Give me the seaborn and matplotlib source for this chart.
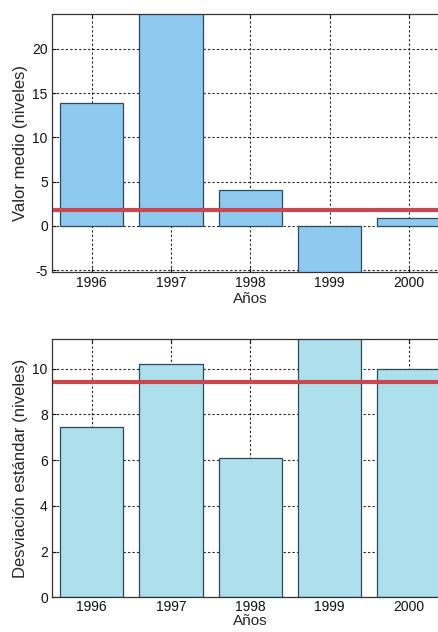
# Valor medio y desviación estándar por año
import pandas as pd
import matplotlib.pyplot as plt
import seaborn as sns

# ------------------------------------------
# Data
# ------------------------------------------
years = ["1996", "1997", "1998", "1999", "2000"]
mean_vals = [13.9, 25.0, 4.0, -6.0, 0.9]
std_vals = [7.47, 10.2, 6.1, 11.8, 9.98]
mean_ref = 1.8
std_ref = 9.4

df = pd.DataFrame({"Año": years, "Media": mean_vals, "Desv": std_vals})

sns.set_style("white")
plt.rcParams["font.family"] = ["Liberation Sans", "DejaVu Sans"]
plt.rcParams["axes.unicode_minus"] = False

fig = plt.figure(figsize=(4.39, 6.32), dpi=100)

# axes run past the right edge, as in the cropped original
ax1 = fig.add_axes([0.1185, 0.5696, 0.903, 0.408])
ax2 = fig.add_axes([0.1185, 0.055, 0.903, 0.4086])


def style_axes(ax):
    ax.set_axisbelow(True)
    ax.grid(True, linestyle=(0, (2, 2)), color="#222222", linewidth=0.8)
    for s in ax.spines.values():
        s.set_color("#333333")
        s.set_linewidth(0.9)
    ax.tick_params(direction="in", length=3, labelsize=10, colors="#111111",
                   top=True, right=True, left=True, bottom=True, pad=3)
    ax.set_xlim(-0.5, 4.5)


# ------------------------------------------
# 1. Valor medio
# ------------------------------------------
sns.barplot(data=df, x="Año", y="Media", ax=ax1, color="#8ec9f0",
            saturation=1, edgecolor="#2b4a5c", linewidth=0.9, width=0.8)
ax1.axhline(mean_ref, color="#c9474f", linewidth=3)
style_axes(ax1)
ax1.set_ylim(-5.2, 23.9)
ax1.set_yticks([-5, 0, 5, 10, 15, 20])
ax1.set_xlabel("Años", fontsize=11, labelpad=1)
ax1.set_ylabel("Valor medio (niveles)", fontsize=12, labelpad=3)

# ------------------------------------------
# 2. Desviación estándar
# ------------------------------------------
sns.barplot(data=df, x="Año", y="Desv", ax=ax2, color="#ade0ec",
            saturation=1, edgecolor="#2b4a5c", linewidth=0.9, width=0.8)
ax2.axhline(std_ref, color="#c9474f", linewidth=3)
style_axes(ax2)
ax2.tick_params(axis="x", pad=2)
ax2.set_ylim(0, 11.3)
ax2.set_yticks([0, 2, 4, 6, 8, 10])
ax2.set_xlabel("Años", fontsize=11, labelpad=0)
ax2.set_ylabel("Desviación estándar (niveles)", fontsize=12, labelpad=3)

fig.savefig("out.png", dpi=100)
